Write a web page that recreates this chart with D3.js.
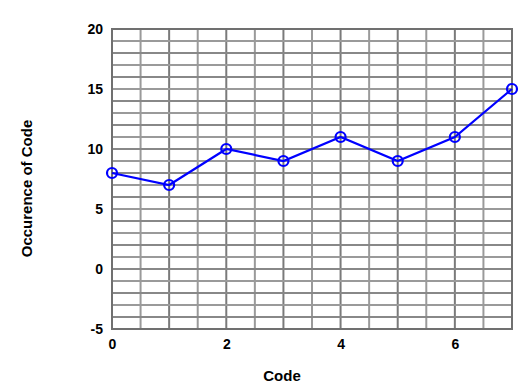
<!DOCTYPE html>
<html>
<head>
<meta charset="utf-8">
<script src="https://cdn.jsdelivr.net/npm/d3@7"></script>
<style>
  body { margin: 0; background: #fff; }
  text { font-family: "Liberation Sans", Arial, sans-serif; font-weight: bold; }
</style>
</head>
<body>
<div id="chart"></div>
<script>
const codes = [0, 1, 2, 3, 4, 5, 6, 7];
const occurrences = [8, 7, 10, 9, 11, 9, 11, 15];
const xTicks = [0, 2, 4, 6];
const yTicks = [-5, 0, 5, 10, 15, 20];

const width = 529;
const height = 390;
const margin = { top: 29, right: 17, bottom: 61, left: 112 };
const boundedwidth = width - margin.left - margin.right;
const boundedheight = height - margin.top - margin.bottom;

const xScale = d3.scaleLinear().domain([0, 7]).range([0, boundedwidth]);
const yScale = d3.scaleLinear().domain([-5, 20]).range([boundedheight, 0]);

const svg = d3.select("#chart").append("svg")
    .attr("width", width)
    .attr("height", height);

const g = svg.append("g")
    .attr("transform", "translate(" + margin.left + "," + margin.top + ")");

// grid: vertical every 0.5, horizontal every 1
g.append("g").selectAll("line")
    .data(d3.range(0.5, 7, 0.5))
    .join("line")
    .attr("x1", d => xScale(d)).attr("x2", d => xScale(d))
    .attr("y1", 0).attr("y2", boundedheight)
    .attr("stroke", d => d % 1 === 0 ? "#7a7a7a" : "#9a9a9a")
    .attr("stroke-width", 2);

g.append("g").selectAll("line")
    .data(d3.range(-4, 20, 1))
    .join("line")
    .attr("x1", 0).attr("x2", boundedwidth)
    .attr("y1", d => yScale(d)).attr("y2", d => yScale(d))
    .attr("stroke", d => d % 2 === 0 ? "#888" : "#9a9a9a")
    .attr("stroke-width", 2);

// frame
g.append("rect")
    .attr("width", boundedwidth)
    .attr("height", boundedheight)
    .attr("fill", "none")
    .attr("stroke", "#707070")
    .attr("stroke-width", 2);

// axes
const xAxis = g.append("g")
    .attr("transform", "translate(0," + boundedheight + ")")
    .call(d3.axisBottom(xScale).tickValues(xTicks).tickFormat(d3.format("d")).tickSize(0).tickPadding(10));
xAxis.select(".domain").remove();
xAxis.selectAll("text").attr("font-size", 14).attr("fill", "#000");

const yAxis = g.append("g")
    .call(d3.axisLeft(yScale).tickValues(yTicks).tickFormat(d => String(d)).tickSize(0).tickPadding(9));
yAxis.select(".domain").remove();
yAxis.selectAll("text").attr("font-size", 14).attr("fill", "#000");

// line
const line = d3.line()
    .x((d, i) => xScale(codes[i]))
    .y(d => yScale(d));

g.append("path").datum(occurrences)
    .attr("fill", "none")
    .attr("stroke", "#0000ff")
    .attr("stroke-width", 2.2)
    .attr("d", line);

g.selectAll("circle")
    .data(occurrences)
    .join("circle")
    .attr("cx", (d, i) => xScale(codes[i]))
    .attr("cy", d => yScale(d))
    .attr("r", 5)
    .attr("fill", "none")
    .attr("stroke", "#0000ff")
    .attr("stroke-width", 2.2);

// axis titles
svg.append("text")
    .attr("x", 282)
    .attr("y", 381)
    .attr("text-anchor", "middle")
    .attr("font-size", 15)
    .text("Code");

svg.append("text")
    .attr("transform", "translate(32,188.5) rotate(-90)")
    .attr("text-anchor", "middle")
    .attr("font-size", 15)
    .text("Occurence of Code");
</script>
</body>
</html>
